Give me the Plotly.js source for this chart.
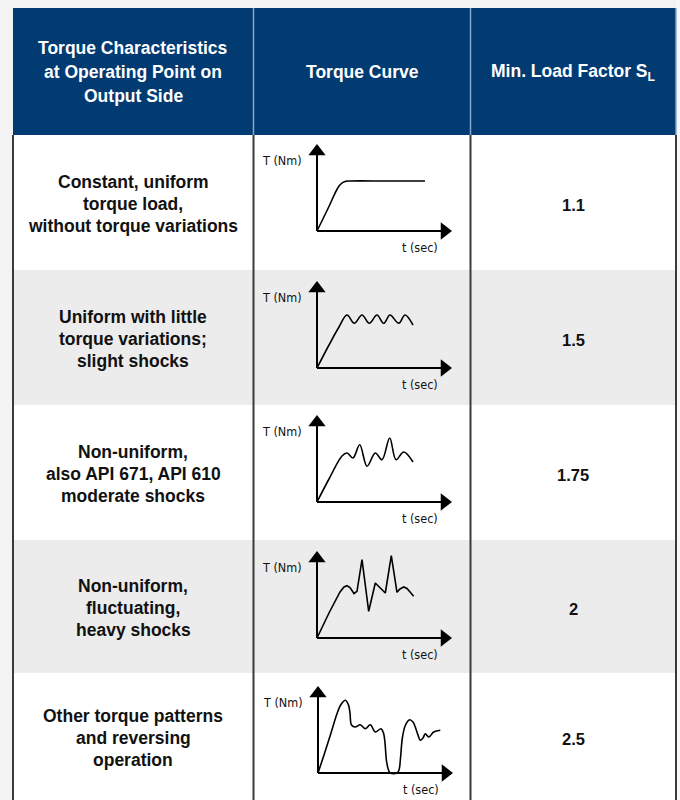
<!DOCTYPE html>
<html>
<head>
<meta charset="utf-8">
<script src="https://cdn.plot.ly/plotly-3.0.1.min.js"></script>
<style>html,body{margin:0;padding:0;background:#f3f3f3;}#chart{width:680px;height:800px;}</style>
</head>
<body>
<div id="chart"></div>
<script>
// ---------- DATA ----------
const headers = [
  ["Torque Characteristics", "at Operating Point on", "Output Side"],
  ["Torque Curve"],
  ["Min. Load Factor S<sub>L</sub>"]
];
const characteristics = [
  ["Constant, uniform", "torque load,", "without torque variations"],
  ["Uniform with little", "torque variations;", "slight shocks"],
  ["Non-uniform,", "also API 671, API 610", "moderate shocks"],
  ["Non-uniform,", "fluctuating,", "heavy shocks"],
  ["Other torque patterns", "and reversing", "operation"]
];
const loadFactors = ["1.1", "1.5", "1.75", "2", "2.5"];
const axisLabelT = "T (Nm)";
const axisLabelt = "t (sec)";

// torque curves (t, T) for each row
const curve1_t = [0, 11, 22, 26, 29, 33, 70, 108];
const curve1_T = [0, 22.5, 45, 48.6, 49.7, 50, 50, 50];
const curve2_t = [0, 12, 22, 30, 37.3, 45, 52.3, 60, 66.7, 73, 81.7, 88, 96];
const curve2_T = [0, 23, 41, 53, 44.7, 53, 44.7, 53, 44.7, 53, 44.7, 53, 43];
const curve3_t = [0, 12, 25, 30, 36, 42.7, 50, 58.3, 65, 72.7, 79, 86.7, 96];
const curve3_T = [0, 23, 46, 49, 44, 57.3, 35.7, 49, 42.3, 64, 42.3, 50, 40];
const curve4_t = [0, 12, 23, 27, 30, 33, 37, 40, 45, 51.7, 58.3, 63, 68.3, 74.3, 80, 83, 86.7, 90, 93, 96.7];
const curve4_T = [0, 25, 46, 51, 52.3, 50.5, 44.5, 46.7, 78.3, 26.7, 55, 50, 45, 82.3, 45.7, 49, 51, 49.5, 46, 41.7];
const curve5_t = [0, 6, 12.3, 19, 23, 27.3, 30.5, 32, 33.5, 37.3, 42.3, 47.3, 52.3, 57.3, 63, 65.5, 67, 68.5, 70.5, 72.3, 79, 81, 82.5, 84.5, 87.5, 91.7, 95, 97.3, 100, 102.3, 105, 107.3, 110.7, 115.7, 122.3];
const curve5_T = [0, 18, 37.7, 59.3, 68.5, 72.7, 68, 60, 48, 46, 48.3, 44.3, 48.3, 41, 44.3, 40, 30, 12, 3, 0, 0, 3, 15, 36, 48, 53.3, 51, 46, 38, 32.7, 35, 39.3, 36, 41, 42.7];

// ---------- LAYOUT ----------
const W = 680, H = 800;
const tableL = 13, tableR = 676, headTop = 8, headBot = 135;
const colX = [tableL, 253.5, 470.5, tableR];
const rowY = [135, 270, 405, 540, 673, 800];
const headerBlue = "#023a72";
const curves = [
  {t: curve1_t, T: curve1_T, shape: "spline", origin: [317, 231]},
  {t: curve2_t, T: curve2_T, shape: "spline", origin: [317, 368]},
  {t: curve3_t, T: curve3_T, shape: "spline", origin: [317, 502]},
  {t: curve4_t, T: curve4_T, shape: "linear", origin: [317, 638]},
  {t: curve5_t, T: curve5_T, shape: "spline", origin: [318, 773]}
];
const xTip = 134, yTip = 86;
const mainFont = "Liberation Sans, Arial, sans-serif";
const smallFont = "DejaVu Sans Condensed, Liberation Sans Narrow, sans-serif";

const shapes = [];
const annotations = [];
const traces = [];
const layout = {
  width: W, height: H,
  margin: {l: 0, r: 0, t: 0, b: 0},
  paper_bgcolor: "#f3f3f3",
  plot_bgcolor: "rgba(0,0,0,0)",
  showlegend: false,
  xaxis: {range: [0, W], domain: [0, 1], visible: false, fixedrange: true},
  yaxis: {range: [H, 0], domain: [0, 1], visible: false, fixedrange: true},
  font: {family: mainFont}
};
shapes.push({type: "rect", xref: "x", yref: "y", x0: tableR, x1: W, y0: 0, y1: H, fillcolor: "#f8f8f8", line: {width: 0}, layer: "below"});
shapes.push({type: "rect", xref: "x", yref: "y", x0: tableL, x1: tableR, y0: headTop, y1: headBot, fillcolor: headerBlue, line: {width: 0}, layer: "below"});
for (let i = 0; i < 5; i++) {
  shapes.push({type: "rect", xref: "x", yref: "y", x0: tableL, x1: tableR, y0: rowY[i], y1: rowY[i + 1],
    fillcolor: i % 2 === 0 ? "#ffffff" : "#ececec", line: {width: 0}, layer: "below"});
}
colX.forEach((cx, k) => {
  shapes.push({type: "line", xref: "x", yref: "y", x0: cx, x1: cx, y0: headTop, y1: headBot,
    line: {color: "#8aa6cc", width: k === 0 ? 0 : 1.5}, layer: "above"});
  shapes.push({type: "line", xref: "x", yref: "y", x0: cx, x1: cx, y0: headBot, y1: H,
    line: {color: "#3a3a3a", width: 2}, layer: "above"});
});

const colCenters = [133, 362, 573];
headers.forEach((lines, c) => {
  const n = lines.length;
  lines.forEach((ln, j) => {
    annotations.push({xref: "x", yref: "y", x: colCenters[c], y: 72 + (j - (n - 1) / 2) * 24,
      text: "<b>" + ln + "</b>", showarrow: false, xanchor: "center", yanchor: "middle",
      font: {color: "#ffffff", size: 17.5, family: mainFont}});
  });
});
characteristics.forEach((lines, i) => {
  const cy = (rowY[i] + rowY[i + 1]) / 2 + 1.5;
  lines.forEach((ln, j) => {
    annotations.push({xref: "x", yref: "y", x: colCenters[0], y: cy + (j - 1) * 22,
      text: "<b>" + ln + "</b>", showarrow: false, xanchor: "center", yanchor: "middle",
      font: {color: "#111111", size: 17.5, family: mainFont}});
  });
  annotations.push({xref: "x", yref: "y", x: colCenters[2], y: cy + 1,
    text: "<b>" + loadFactors[i] + "</b>", showarrow: false, xanchor: "center", yanchor: "middle",
    font: {color: "#111111", size: 16.5, family: mainFont}});
});

curves.forEach((cv, i) => {
  const k = i + 2;
  const [ox, oy] = cv.origin;
  const xr = [-60, 145], yr = [-25, 95];
  layout["xaxis" + k] = {anchor: "y" + k, domain: [(ox + xr[0]) / W, (ox + xr[1]) / W], range: xr, visible: false, fixedrange: true};
  layout["yaxis" + k] = {anchor: "x" + k, domain: [(H - (oy - yr[0])) / H, (H - (oy - yr[1])) / H], range: yr, visible: false, fixedrange: true};
  const xa = "x" + k, ya = "y" + k;
  traces.push({type: "scatter", mode: "lines", x: [0, 0, null, 0, xTip - 10], y: [yTip - 10, 0, null, 0, 0],
    xaxis: xa, yaxis: ya, line: {color: "#000", width: 2}, hoverinfo: "skip"});
  traces.push({type: "scatter", mode: "markers", x: [0], y: [yTip - 6.5], xaxis: xa, yaxis: ya,
    marker: {symbol: "triangle-up", size: 15, color: "#000", line: {width: 0}}, hoverinfo: "skip"});
  traces.push({type: "scatter", mode: "markers", x: [xTip - 6.5], y: [0], xaxis: xa, yaxis: ya,
    marker: {symbol: "triangle-right", size: 15, color: "#000", line: {width: 0}}, hoverinfo: "skip"});
  traces.push({type: "scatter", mode: "lines", x: cv.t, y: cv.T, xaxis: xa, yaxis: ya,
    line: {color: "#000", width: 1.6, shape: cv.shape, smoothing: 1}, hoverinfo: "skip"});
  annotations.push({xref: xa, yref: ya, x: -35, y: 71, text: axisLabelT, showarrow: false,
    xanchor: "center", yanchor: "middle", font: {size: 12.5, color: "#111", family: smallFont}});
  annotations.push({xref: xa, yref: ya, x: 103, y: -16, text: axisLabelt, showarrow: false,
    xanchor: "center", yanchor: "middle", font: {size: 12.5, color: "#111", family: smallFont}});
});

layout.shapes = shapes;
layout.annotations = annotations;
Plotly.newPlot("chart", traces, layout, {staticPlot: true, displayModeBar: false});
</script>
</body>
</html>
